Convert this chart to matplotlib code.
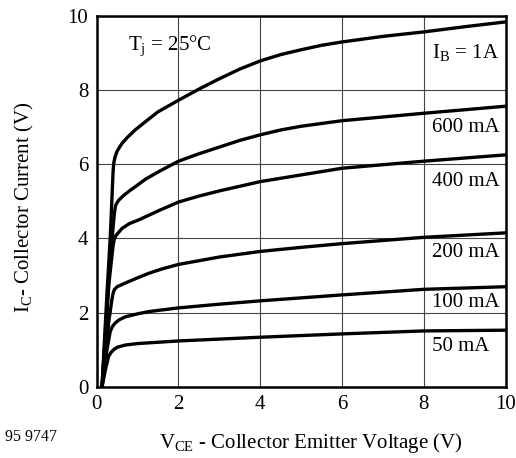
import matplotlib
matplotlib.use('Agg')
import matplotlib.pyplot as plt

plt.rcParams['font.family'] = ['Liberation Serif', 'DejaVu Serif']
plt.rcParams['mathtext.fontset'] = 'custom'
plt.rcParams['mathtext.rm'] = 'Liberation Serif'
plt.rcParams['mathtext.it'] = 'Liberation Serif:italic'

# output characteristics, VCE (V) vs IC (A), one curve per base current
vce_1a = [0.13, 0.25, 0.33, 0.37, 0.40, 0.42, 0.45, 0.50, 0.56, 0.62, 0.75, 0.94, 1.2, 1.5,
          2, 2.5, 3, 3.5, 4, 4.5, 5, 5.5, 6, 7, 8, 9, 10]
ic_1a = [0, 2.5, 4.0, 5.0, 5.8, 6.05, 6.2, 6.35, 6.46, 6.56, 6.72, 6.92, 7.15, 7.41,
         7.72, 8.02, 8.3, 8.56, 8.78, 8.95, 9.08, 9.2, 9.29, 9.44, 9.56, 9.70, 9.83]

vce_600 = [0.13, 0.30, 0.40, 0.43, 0.46, 0.50, 0.54, 0.65, 0.80, 0.94, 1.2, 1.52,
           2, 2.5, 3, 3.5, 4, 4.5, 5, 6, 8, 10]
ic_600 = [0, 3.0, 4.3, 4.65, 4.88, 4.97, 5.03, 5.15, 5.28, 5.39, 5.6, 5.8,
          6.08, 6.28, 6.46, 6.64, 6.79, 6.92, 7.02, 7.17, 7.37, 7.56]

vce_400 = [0.13, 0.30, 0.40, 0.43, 0.47, 0.55, 0.62, 0.80, 1.03, 1.5,
           2, 2.5, 3, 4, 5, 6, 8, 10]
ic_400 = [0, 2.8, 3.8, 3.98, 4.08, 4.18, 4.27, 4.4, 4.5, 4.74,
          4.98, 5.14, 5.28, 5.53, 5.71, 5.89, 6.08, 6.25]

vce_200 = [0.13, 0.30, 0.37, 0.40, 0.43, 0.50, 0.70, 1.0, 1.27, 1.6, 2, 3, 4, 5, 6, 8, 10]
ic_200 = [0, 1.8, 2.34, 2.52, 2.62, 2.70, 2.80, 2.94, 3.06, 3.18, 3.30, 3.50, 3.65, 3.76, 3.86, 4.03, 4.15]

vce_100 = [0.13, 0.25, 0.33, 0.38, 0.45, 0.55, 0.70, 1.0, 1.27, 2, 3, 4, 6, 8, 10]
ic_100 = [0, 1.0, 1.49, 1.62, 1.72, 1.81, 1.89, 1.97, 2.03, 2.13, 2.23, 2.32, 2.48, 2.63, 2.70]

vce_50 = [0.13, 0.22, 0.29, 0.35, 0.42, 0.50, 0.70, 1.0, 2, 4, 6, 8, 10]
ic_50 = [0, 0.5, 0.82, 0.93, 1.01, 1.07, 1.13, 1.17, 1.24, 1.34, 1.43, 1.51, 1.53]

curve_labels = [r'$\mathrm{I_B}$ = 1A', '600 mA', '400 mA', '200 mA', '100 mA', '50 mA']
label_y = [9.0, 7.0, 5.53, 3.61, 2.27, 1.10]

xticks = [0, 2, 4, 6, 8, 10]
yticks = [0, 2, 4, 6, 8, 10]

fig = plt.figure(figsize=(5.16, 4.58), dpi=100)
ax = fig.add_axes([0.1874, 0.155, 0.7926, 0.811])

curves = [(vce_1a, ic_1a), (vce_600, ic_600), (vce_400, ic_400),
          (vce_200, ic_200), (vce_100, ic_100), (vce_50, ic_50)]
for (xs, ys), lab, ly in zip(curves, curve_labels, label_y):
    ax.plot(xs, ys, color='black', lw=2.4, solid_capstyle='round',
            solid_joinstyle='round', zorder=3)
    ax.text(8.2, ly, lab, fontsize=15, ha='left', va='center', zorder=4)

ax.text(0.77, 9.2, r'$\mathrm{T_j}$ = 25°C', fontsize=15, ha='left', va='center')

ax.set_xlim(0, 10)
ax.set_ylim(0, 10)
ax.set_xticks(xticks)
ax.set_yticks(yticks)
ax.tick_params(length=0, labelsize=15)
ax.tick_params(axis='x', pad=6)
ax.tick_params(axis='y', pad=6)
ax.grid(True, color='#444444', lw=0.8)
ax.set_axisbelow(True)
for sp in ax.spines.values():
    sp.set_linewidth(1.8)

fig.text(0.047, 0.548, r'$\mathrm{I_C}$- Collector Current (V)', rotation=90,
         fontsize=15, ha='center', va='center')
fig.text(0.603, 0.033, r'$\mathrm{V_{CE}}$ - Collector Emitter Voltage (V)',
         fontsize=15, ha='center', va='center')
fig.text(0.01, 0.046, '95 9747', fontsize=11.5, ha='left', va='center')

fig.savefig('out.png', dpi=100)
